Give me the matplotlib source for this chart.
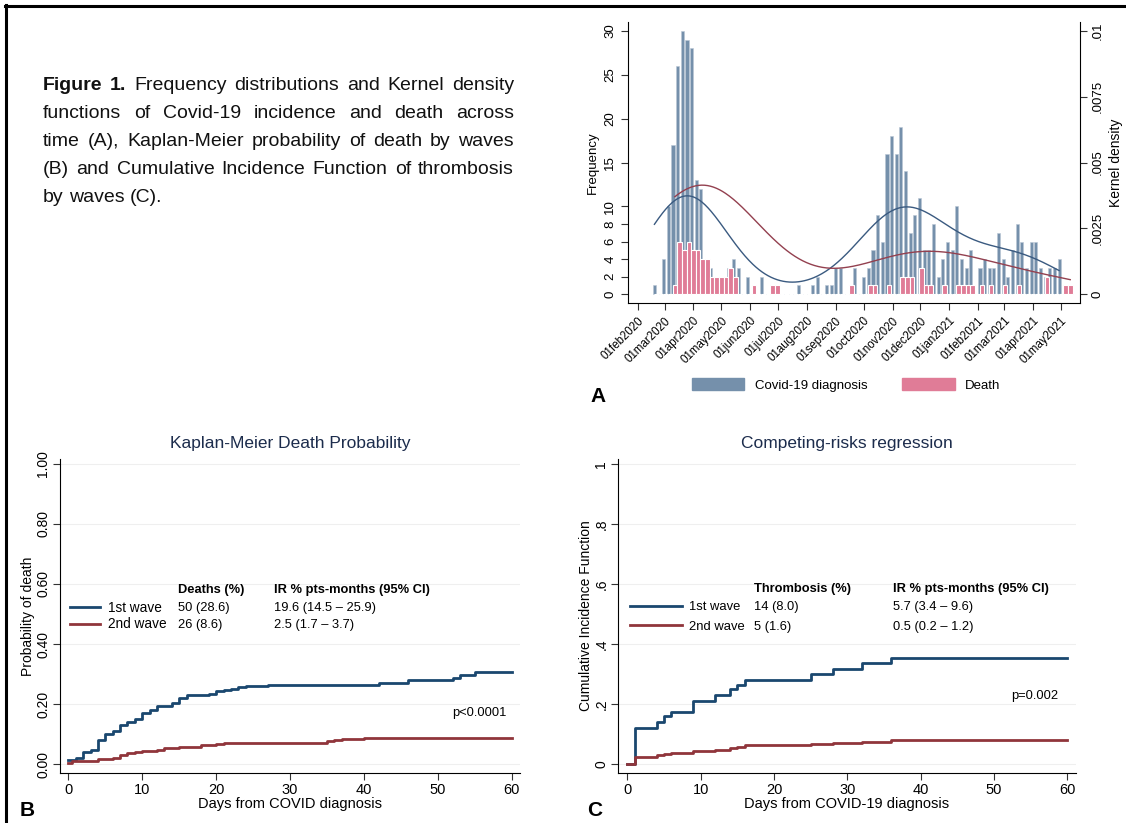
import numpy as np
import pandas as pd
import matplotlib
matplotlib.use('Agg')
import matplotlib.pyplot as plt
from matplotlib.patches import Patch
from matplotlib.lines import Line2D

plt.rcParams['font.family'] = ['Liberation Sans', 'DejaVu Sans']

W, H = 1126, 823

# ---------------- data, panel A (5-day bins) ----------------
origin = pd.Timestamp('2020-02-01')
covid_start = '2020-02-19'   # centre of first diagnosis bin
death_start = '2020-02-21'   # centre of first death bin
bin_days = 5
covid = [1, 0, 4, 10, 17, 26, 30, 29, 28, 13,
         12, 4, 3, 2, 1, 2, 3, 4, 3, 0,
         2, 0, 0, 2, 0, 0, 0, 0, 0, 0,
         0, 1, 0, 0, 1, 2, 0, 1, 1, 3,
         3, 0, 0, 3, 0, 2, 3, 5, 9, 6,
         16, 18, 16, 19, 14, 7, 9, 11, 5, 5,
         8, 2, 4, 6, 5, 10, 4, 3, 5, 0,
         3, 4, 3, 3, 7, 4, 2, 5, 8, 6,
         3, 6, 6, 3, 2, 3, 3, 4]
deaths = [0, 0, 0, 0, 1, 6, 5, 6, 5, 5,
          4, 4, 2, 2, 2, 2, 3, 2, 0, 0,
          0, 1, 0, 0, 0, 1, 1, 0, 0, 0,
          0, 0, 0, 0, 0, 0, 0, 0, 0, 0,
          0, 0, 1, 0, 0, 0, 1, 1, 0, 0,
          1, 0, 0, 2, 2, 2, 0, 3, 1, 1,
          0, 0, 1, 0, 0, 1, 1, 1, 1, 0,
          1, 0, 1, 0, 0, 1, 0, 0, 1, 0,
          0, 0, 0, 0, 2, 0, 0, 0, 1, 1]
month_ticks = pd.date_range('2020-02-01', '2021-05-01', freq='MS')

# ---------------- data, panel B (Kaplan-Meier) ----------------
km1_t = [0, 1, 2, 3, 4, 5, 6, 7, 8, 9, 10, 11, 12, 14, 15, 16, 19, 20, 21, 22, 23, 24, 27, 42, 46, 52, 53, 55, 60]
km1_v = [0.015, 0.022, 0.04, 0.047, 0.08, 0.10, 0.11, 0.13, 0.14, 0.15, 0.17, 0.18, 0.195, 0.205, 0.22, 0.23,
         0.235, 0.243, 0.246, 0.25, 0.257, 0.26, 0.264, 0.27, 0.28, 0.287, 0.298, 0.308, 0.308]
km2_t = [0, 0.5, 4, 6, 7, 8, 9, 10, 12, 13, 15, 16, 18, 20, 21, 35, 36, 37, 40, 60]
km2_v = [0.005, 0.012, 0.017, 0.022, 0.03, 0.038, 0.041, 0.044, 0.049, 0.053, 0.056, 0.059, 0.063, 0.067,
         0.07, 0.077, 0.08, 0.084, 0.087, 0.087]

# ---------------- data, panel C (cumulative incidence) ----------------
cif_t = [0, 1, 4, 5, 6, 9, 12, 14, 15, 16, 25, 28, 32, 36, 60]
cif1_v = [0, 0.12, 0.14, 0.16, 0.175, 0.21, 0.23, 0.25, 0.265, 0.28, 0.30, 0.318, 0.336, 0.353, 0.353]
cif2_v = [0, 0.025, 0.03, 0.034, 0.038, 0.045, 0.049, 0.054, 0.058, 0.063, 0.067, 0.07, 0.075, 0.08, 0.082]

caption = ["Figure 1. Frequency distributions and Kernel density",
           "functions of Covid-19 incidence and death across",
           "time (A), Kaplan-Meier probability of death by waves",
           "(B) and Cumulative Incidence Function of thrombosis",
           "by waves (C)."]

NAVY = '#1a476f'
MAROON = '#90353b'
BLUE_BAR = '#7590ab'
PINK_BAR = '#e07c97'


def box(l, t, r, b):
    return [l / W, 1 - b / H, (r - l) / W, (b - t) / H]


def kde(x, w, h):
    x = np.asarray(x, float)
    w = np.asarray(w, float)
    grid = np.linspace(x[w > 0].min(), x[w > 0].max(), 400)
    z = (grid[:, None] - x[None, :]) / h
    d = (w[None, :] * np.exp(-0.5 * z ** 2)).sum(1) / (w.sum() * h * np.sqrt(2 * np.pi))
    return grid, d


fig = plt.figure(figsize=(W / 100, H / 100), dpi=100)

# frame
fig.add_artist(Line2D([6 / W, 6 / W], [0, 1 - 5 / H], transform=fig.transFigure, color='k', lw=2.2))
fig.add_artist(Line2D([5 / W, 1], [1 - 6 / H, 1 - 6 / H], transform=fig.transFigure, color='k', lw=2.2))

# caption, justified
r = fig.canvas.get_renderer()
x0, x1 = 43, 514
for i, line in enumerate(caption):
    y = 85 + 28 * i
    words = line.split(' ')
    texts = []
    for j, wd in enumerate(words):
        bold = (i == 0 and j < 2)
        texts.append(fig.text(0, 1 - y / H, wd, fontsize=14, va='center',
                              weight='bold' if bold else 'normal', color='#111111'))
    widths = [t.get_window_extent(r).width for t in texts]
    if i < len(caption) - 1:
        gap = (x1 - x0 - sum(widths)) / (len(words) - 1)
    else:
        gap = 5.2
    x = x0
    for t, wd in zip(texts, widths):
        t.set_x(x / W)
        x += wd + gap

# ---------------- panel A ----------------
axA = fig.add_axes(box(628, 22, 1080, 303))
cx = (pd.Timestamp(covid_start) - origin).days + bin_days * np.arange(len(covid))
dx = (pd.Timestamp(death_start) - origin).days + bin_days * np.arange(len(deaths))
axA.bar(cx, covid, width=3.3, color=BLUE_BAR, edgecolor='#b9c6d4', lw=0.4, zorder=2)
axA.bar(dx, deaths, width=bin_days, color=PINK_BAR, edgecolor='white', lw=0.8, zorder=3)
axA.set_xlim(-10.4, 475.5)
axA.set_ylim(-1, 31)
axA.set_yticks([0, 2, 4, 6, 8, 10, 15, 20, 25, 30])
axA.tick_params(axis='y', labelrotation=90, labelsize=9.5, length=5, color='#333333')
for lab in axA.get_yticklabels():
    lab.set_va('center')
tick_x = (month_ticks - origin).days
axA.set_xticks(tick_x)
axA.set_xticklabels([d.strftime('%d%b%Y').lower() for d in month_ticks],
                    rotation=45, ha='right', rotation_mode='anchor', fontsize=8.3)
axA.tick_params(axis='x', length=5, color='#333333')
axA.set_ylabel('Frequency', fontsize=9.5, labelpad=4)
axA.spines['top'].set_visible(False)
axA.spines['right'].set_visible(False)

axK = axA.twinx()
axK.set_ylim(-1 / 3000, 31 / 3000)
axK.set_yticks([0, 0.0025, 0.005, 0.0075, 0.01])
axK.set_yticklabels(['0', '.0025', '.005', '.0075', '.01'])
axK.tick_params(axis='y', labelrotation=90, labelsize=9.5, length=5, color='#333333')
for lab in axK.get_yticklabels():
    lab.set_va('center')
axK.set_ylabel('Kernel density', fontsize=10, labelpad=4)
for s in ['top', 'left', 'bottom']:
    axK.spines[s].set_visible(False)
g, d = kde(cx, covid, 40)
axK.plot(g, d, color='#3a5a80', lw=1.0)
g, d = kde(dx, deaths, 58)
axK.plot(g, d, color='#93404f', lw=1.0)

fig.legend(handles=[Patch(color=BLUE_BAR, label='Covid-19 diagnosis'),
                    Patch(color=PINK_BAR, label='Death')],
           loc='center', bbox_to_anchor=(846 / W, 1 - 385 / H), ncol=2, frameon=False,
           fontsize=9.5, handlelength=4.0, handleheight=1.0, handletextpad=0.8,
           columnspacing=2.6, borderpad=0)
fig.text(590 / W, 1 - 397 / H, 'A', fontsize=15, weight='bold', va='center')


# ---------------- panels B, C ----------------
def style(ax, xlim, ylabels):
    ax.set_xlim(*xlim)
    ax.set_ylim(-0.029, 1.016)
    ax.set_yticks([0, 0.2, 0.4, 0.6, 0.8, 1.0])
    ax.set_yticklabels(ylabels)
    ax.set_xticks([0, 10, 20, 30, 40, 50, 60])
    ax.tick_params(axis='y', labelrotation=90, labelsize=10, length=5, color='#333333', pad=2)
    for lab in ax.get_yticklabels():
        lab.set_va('center')
    ax.tick_params(axis='x', labelsize=10.5, length=5, color='#333333', pad=2)
    ax.yaxis.grid(True, color='#efefef', lw=0.8)
    ax.set_axisbelow(True)
    ax.spines['top'].set_visible(False)
    ax.spines['right'].set_visible(False)


axB = fig.add_axes(box(60, 459, 520, 773))
axB.step(km1_t, km1_v, where='post', color=NAVY, lw=2.0, label='1st wave')
axB.step(km2_t, km2_v, where='post', color=MAROON, lw=2.0, label='2nd wave')
style(axB, (-1.13, 61.1), ['0.00', '0.20', '0.40', '0.60', '0.80', '1.00'])
axB.set_title('Kaplan-Meier Death Probability', fontsize=12.5, color='#1c2c4c', pad=8)
axB.set_ylabel('Probability of death', fontsize=10, labelpad=1)
axB.set_xlabel('Days from COVID diagnosis', fontsize=10.5, labelpad=0)
axB.legend(loc='center left', bbox_to_anchor=(70 / W, 1 - 616 / H), bbox_transform=fig.transFigure,
           frameon=False, fontsize=9.8, handlelength=2.2, handletextpad=0.6, labelspacing=0.2,
           borderpad=0, borderaxespad=0)
for px, py, s, b in [(178, 590, 'Deaths (%)', True), (178, 608, '50 (28.6)', False), (178, 625, '26 (8.6)', False),
                     (274, 590, 'IR % pts-months (95% CI)', True), (274, 608, '19.6 (14.5 \u2013 25.9)', False),
                     (274, 625, '2.5 (1.7 \u2013 3.7)', False), (452, 713, 'p<0.0001', False)]:
    fig.text(px / W, 1 - py / H, s, fontsize=9.3, va='center', weight='bold' if b else 'normal')
fig.text(20 / W, 1 - 810 / H, 'B', fontsize=15, weight='bold', va='center')

axC = fig.add_axes(box(618, 459, 1076, 773))
axC.step(cif_t, cif1_v, where='post', color=NAVY, lw=2.0, label='1st wave')
axC.step(cif_t, cif2_v, where='post', color=MAROON, lw=2.0, label='2nd wave')
style(axC, (-1.28, 61.2), ['0', '.2', '.4', '.6', '.8', '1'])
axC.set_title('Competing-risks regression', fontsize=12.5, color='#1c2c4c', pad=8)
axC.set_ylabel('Cumulative Incidence Function', fontsize=10, labelpad=1)
axC.set_xlabel('Days from COVID-19 diagnosis', fontsize=10.5, labelpad=0)
axC.legend(loc='center left', bbox_to_anchor=(630 / W, 1 - 617 / H), bbox_transform=fig.transFigure,
           frameon=False, fontsize=9.4, handlelength=4.0, handletextpad=0.5, labelspacing=0.55,
           borderpad=0, borderaxespad=0)
for px, py, s, b in [(754, 589, 'Thrombosis (%)', True), (754, 607, '14 (8.0)', False), (754, 627, '5 (1.6)', False),
                     (893, 589, 'IR % pts-months (95% CI)', True), (893, 607, '5.7 (3.4 \u2013 9.6)', False),
                     (893, 627, '0.5 (0.2 \u2013 1.2)', False), (1011, 696, 'p=0.002', False)]:
    fig.text(px / W, 1 - py / H, s, fontsize=9.3, va='center', weight='bold' if b else 'normal')
fig.text(587 / W, 1 - 810 / H, 'C', fontsize=15, weight='bold', va='center')

fig.savefig('out.png', dpi=100)
